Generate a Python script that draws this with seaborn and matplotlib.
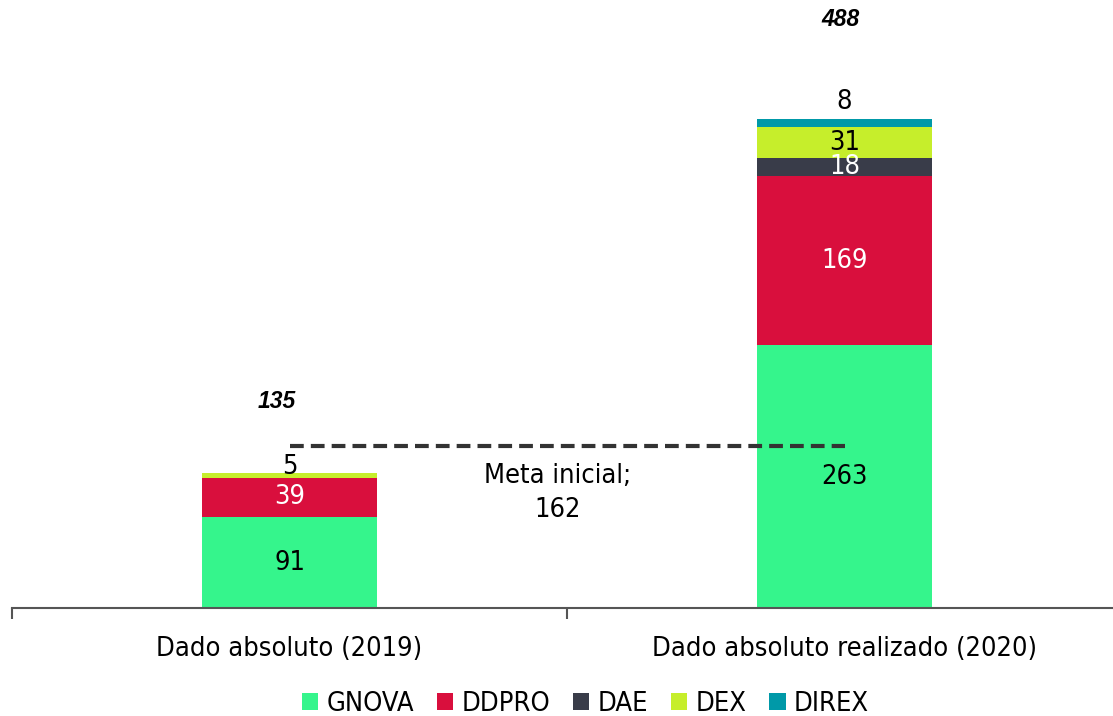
import pandas as pd
import numpy as np
import matplotlib
matplotlib.use("Agg")
import matplotlib.pyplot as plt
from matplotlib.patches import Patch
import seaborn as sns

categories = ["Dado absoluto (2019)", "Dado absoluto realizado (2020)"]
series = ["GNOVA", "DDPRO", "DAE", "DEX", "DIREX"]
gnova = [91, 263]
ddpro = [39, 169]
dae = [0, 18]
dex = [5, 31]
direx = [0, 8]
totals = [135, 488]
meta_inicial = 162

colors = ["#35F58C", "#D90F3D", "#393C49", "#C6EE2B", "#0099A8"]
label_colors = ["black", "white", "white", "black", "black"]

sns.set_theme(style="white")
plt.rcParams["font.family"] = ["DejaVu Sans"]
plt.rcParams["font.stretch"] = "condensed"
plt.rcParams["text.color"] = "black"
plt.rcParams["xtick.color"] = "black"
plt.rcParams["xtick.labelcolor"] = "black"

values = {"GNOVA": gnova, "DDPRO": ddpro, "DAE": dae, "DEX": dex, "DIREX": direx}
df = pd.DataFrame(values, index=categories)
cum = df.cumsum(axis=1)

fig = plt.figure(figsize=(11.13, 7.16), dpi=100)
ax = fig.add_axes([12 / 1113, 108 / 716, 1110 / 1113, 600 / 716])

# stacked bars: draw cumulative heights from the top series down
for s, c in zip(reversed(series), reversed(colors)):
    d = pd.DataFrame({"cat": categories, "val": cum[s].values})
    sns.barplot(data=d, x="cat", y="val", color=c, width=0.314,
                saturation=1, ax=ax, linewidth=0)

FS = 19.5

# segment labels
for i, cat in enumerate(categories):
    base = 0
    for s, lc in zip(series, label_colors):
        v = df.loc[cat, s]
        if v == 0:
            continue
        if v < 10:
            ax.annotate(str(v), (i, base + v), xytext=(0, 3 if s == "DIREX" else -5),
                        textcoords="offset points", ha="center", va="bottom",
                        fontsize=FS, color="black")
        else:
            ax.text(i, base + v / 2, str(v), ha="center", va="center",
                    fontsize=FS, color=lc)
        base += v

# totals
total_offsets = [71, 100]
for i, (t, off) in enumerate(zip(totals, total_offsets)):
    ax.annotate(str(t), (i, t), xytext=(-9 if i == 0 else -3, off * 0.72),
                textcoords="offset points", ha="center", va="center",
                fontsize=16.5, fontweight="bold", fontstyle="italic",
                family=["Liberation Sans"], fontstretch="normal")

# target line
ax.plot([0, 1], [meta_inicial, meta_inicial], linestyle=(0, (3.3, 1.7)),
        color="#333333", linewidth=3)
ax.text(0.483, meta_inicial - 17, "Meta inicial;\n162", ha="center", va="top",
        fontsize=FS, linespacing=1.4)

ax.set_xlim(-0.5, 1.5)
ax.set_ylim(0, 600)
ax.set_xlabel("")
ax.set_ylabel("")
ax.set_yticks([])
for sp in ["top", "right", "left"]:
    ax.spines[sp].set_visible(False)
ax.spines["bottom"].set_color("#555555")
ax.spines["bottom"].set_linewidth(1.5)
ax.set_xticks([0, 1])
ax.set_xticklabels(categories, fontsize=FS)
ax.tick_params(axis="x", which="major", length=0, pad=20)
ax.set_xticks([-0.5, 0.5, 1.5], minor=True)
ax.tick_params(axis="x", which="minor", length=8, width=1.5, color="#555555",
               direction="out", bottom=True)

handles = [Patch(facecolor=c, edgecolor="none") for c in colors]
fig.legend(handles, series, loc="lower center", bbox_to_anchor=(0.526, -0.036),
           ncol=5, frameon=False, fontsize=FS, handlelength=0.6,
           handleheight=0.6, handletextpad=0.3, columnspacing=0.85)

fig.savefig("out.png", dpi=100)
